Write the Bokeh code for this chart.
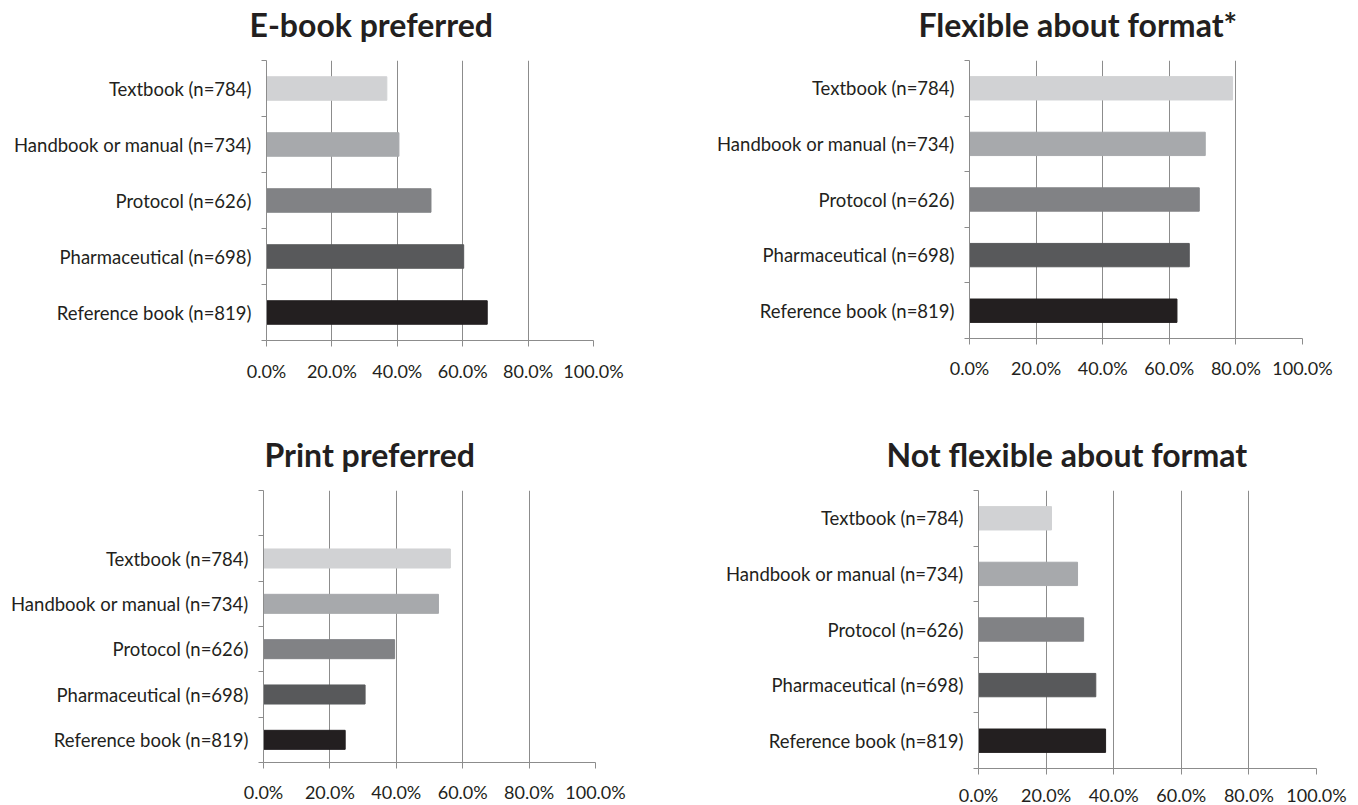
from bokeh.plotting import figure
from bokeh.layouts import column, row
from bokeh.models import ColumnDataSource, FixedTicker, PrintfTickFormatter, Title, Range1d
from bokeh.embed import file_html
from bokeh.resources import INLINE

# ---- data (bottom to top) ----
categories = ["Reference book (n=819)", "Pharmaceutical (n=698)", "Protocol (n=626)",
              "Handbook or manual (n=734)", "Textbook (n=784)"]
bar_colors = ["#231f20", "#58595b", "#818285", "#a7a9ac", "#d1d2d4"]
ebook_preferred = [67.5, 60.3, 50.3, 40.5, 36.8]
flexible_format = [62.3, 66.0, 69.0, 70.8, 79.0]
print_preferred = [24.6, 30.6, 39.5, 52.7, 56.3]
not_flexible = [37.6, 34.7, 31.1, 29.3, 21.6]
x_ticks = [0, 20, 40, 60, 80, 100]

FONT = "Lato"
TEXT = "#231f20"
GRID = "#8c8c8c"


def panel(title, values, n_slots, left, fw, right, top, fh, bottom, title_dx, x_standoff):
    p = figure(frame_width=fw, frame_height=fh,
               min_border_left=left, min_border_right=right,
               min_border_top=top, min_border_bottom=bottom,
               x_range=Range1d(0, 100), y_range=Range1d(0, n_slots),
               output_backend="svg", toolbar_location=None,
               background_fill_color="white", border_fill_color="white")
    p.outline_line_color = None
    ys = [i + 0.5 for i in range(len(values))]
    src = ColumnDataSource(dict(y=ys, v=values, c=bar_colors, cat=categories))
    p.hbar(y="y", right="v", left=0, height=0.42, color="c", source=src)

    # x axis
    xa = p.xaxis[0]
    xa.ticker = FixedTicker(ticks=x_ticks, minor_ticks=[])
    xa.formatter = PrintfTickFormatter(format="%.1f%%")
    xa.axis_line_color = GRID
    xa.major_tick_line_color = GRID
    xa.major_tick_out = 6
    xa.major_tick_in = 0
    xa.minor_tick_line_color = None
    xa.major_label_text_font = FONT
    xa.major_label_text_font_size = "18px"
    xa.major_label_text_color = TEXT
    xa.major_label_standoff = x_standoff

    # y axis (labels at centres, ticks at boundaries)
    ya = p.yaxis[0]
    ya.ticker = FixedTicker(ticks=ys, minor_ticks=list(range(n_slots + 1)))
    ya.major_label_overrides = {y: c for y, c in zip(ys, categories)}
    ya.axis_line_color = GRID
    ya.major_tick_line_color = None
    ya.major_tick_out = 0
    ya.major_tick_in = 0
    ya.minor_tick_line_color = GRID
    ya.minor_tick_out = 5
    ya.minor_tick_in = 0
    ya.major_label_text_font = FONT
    ya.major_label_text_font_size = "18.5px"
    ya.major_label_text_color = TEXT
    ya.major_label_standoff = 10

    p.xgrid.ticker = FixedTicker(ticks=x_ticks[1:])
    p.xgrid.grid_line_color = GRID
    p.ygrid.grid_line_color = None

    # invisible spacer between frame and title, then the title itself
    spacer = Title(text=" ", text_font_size="10px", standoff=4, text_color="white")
    p.add_layout(spacer, "above")
    t = Title(text=title, align="left", offset=title_dx, standoff=0,
              text_font=FONT, text_font_size="32px", text_font_style="bold",
              text_color=TEXT)
    p.add_layout(t, "above")
    return p


p1 = panel("E-book preferred", ebook_preferred, 5, 266, 327, 86, 60, 280, 70, -17, 13)
p2 = panel("Flexible about format*", flexible_format, 5, 290, 333, 56, 60, 278, 72, -51, 12)
p3 = panel("Print preferred", print_preferred, 6, 263, 332, 84, 80, 272, 43, 1, 12)
p4 = panel("Not flexible about format", not_flexible, 5, 299, 338, 42, 80, 278, 37, -92, 9)

layout = column(row(p1, p2), row(p3, p4))
open("out.html", "w").write(file_html(layout, INLINE))
